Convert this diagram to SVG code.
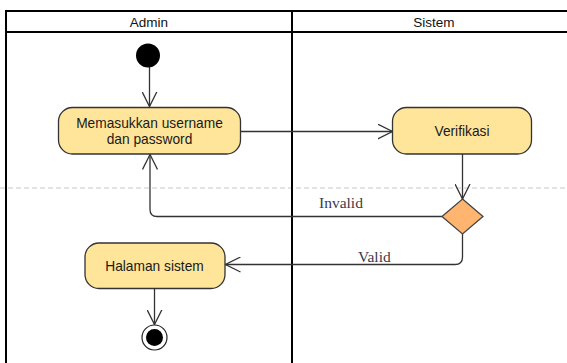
<svg xmlns="http://www.w3.org/2000/svg" width="567" height="363" viewBox="0 0 567 363">
  <defs>
    <style>
      .lane { fill: none; stroke: #000; stroke-width: 2; }
      .lane-title { font-family: "Liberation Sans", Arial, sans-serif; font-size: 13.5px; fill: #111; text-anchor: middle; }
      .action rect { fill: #ffe599; stroke: #333; stroke-width: 1.3; }
      .action text { font-family: "Liberation Sans", Arial, sans-serif; font-size: 13.75px; fill: #1a1a1a; text-anchor: middle; }
      .edge { fill: none; stroke: #333; stroke-width: 1.3; }
      .guard { font-family: "Liberation Serif", "Times New Roman", serif; font-size: 15.5px; fill: #3a3a4c; }
    </style>
    <marker id="open" viewBox="0 0 16 16" refX="15" refY="8" markerWidth="16" markerHeight="16" markerUnits="userSpaceOnUse" orient="auto">
      <path d="M0,0.5 L15,8 L0,15.5" fill="none" stroke="#333" stroke-width="1.3"/>
    </marker>
  </defs>

  <rect width="567" height="363" fill="#fff"/>

  <!-- separator between phases -->
  <line x1="0" y1="188" x2="567" y2="188" stroke="#c8c8c8" stroke-width="1" stroke-dasharray="5 3"/>

  <!-- swimlanes -->
  <g id="lanes">
    <path class="lane" d="M6,363 V11 H580 M6,32 H580 M292,11 V363"/>
    <text class="lane-title" x="149" y="27">Admin</text>
    <text class="lane-title" x="434" y="27">Sistem</text>
  </g>

  <!-- connectors -->
  <g id="connectors">
    <path class="edge" d="M149.5,67 V106.5" marker-end="url(#open)"/>
    <path class="edge" d="M241,131.5 H392.5" marker-end="url(#open)"/>
    <path class="edge" d="M462.5,154 V199" marker-end="url(#open)"/>
    <path class="edge" d="M442,216.5 H157 Q150,216.5 150,209.5 V154.5" marker-end="url(#open)"/>
    <text class="guard" x="319" y="208">Invalid</text>
    <path class="edge" d="M462.5,234 V257 Q462.5,264.5 455,264.5 H225.5" marker-end="url(#open)"/>
    <text class="guard" x="358" y="262">Valid</text>
    <path class="edge" d="M154.5,288.5 V324.5" marker-end="url(#open)"/>
  </g>

  <!-- nodes -->
  <g id="start">
    <circle cx="148" cy="55.5" r="12" fill="#000"/>
  </g>

  <g id="input-credentials" class="action">
    <rect x="58.5" y="107.5" width="182" height="46.5" rx="14" ry="14"/>
    <text x="149.5" y="128">Memasukkan username</text>
    <text x="149.5" y="144">dan password</text>
  </g>

  <g id="verify" class="action">
    <rect x="392.5" y="107.5" width="139" height="46.5" rx="14" ry="14"/>
    <text x="462" y="136">Verifikasi</text>
  </g>

  <g id="decision">
    <polygon points="462.5,199 483,216.5 462.5,234 442,216.5" fill="#ffb570" stroke="#444" stroke-width="1.3"/>
  </g>

  <g id="system-page" class="action">
    <rect x="85" y="243" width="140" height="45.5" rx="14" ry="14"/>
    <text x="154.5" y="270.5">Halaman sistem</text>
  </g>

  <g id="end">
    <circle cx="154.5" cy="337.5" r="12.5" fill="#fff" stroke="#222" stroke-width="1.2"/>
    <circle cx="154.5" cy="337.5" r="8.5" fill="#000"/>
  </g>
</svg>
